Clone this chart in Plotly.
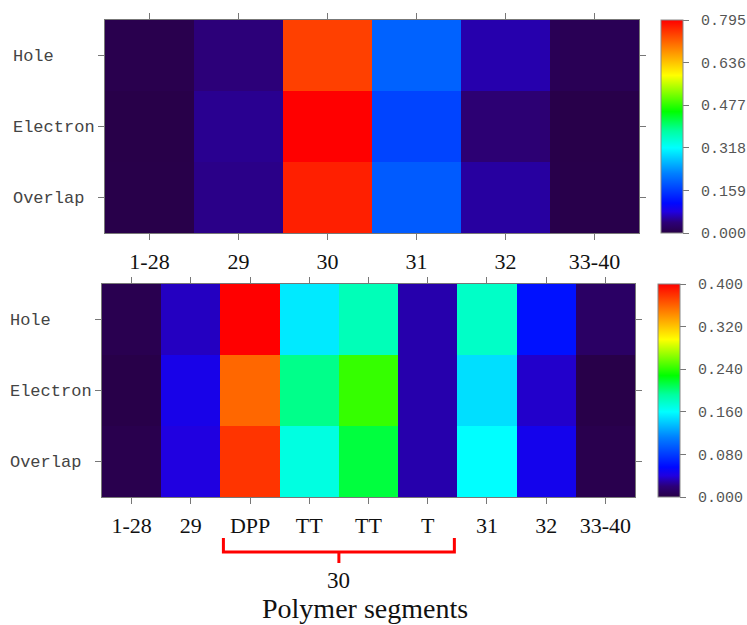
import plotly.graph_objects as go

rows = ["Hole", "Electron", "Overlap"]
row_labels = ["Hole\u00a0\u00a0\u00a0\u00a0", "Electron", "Overlap\u00a0"]

top_cats = ["1-28", "29", "30", "31", "32", "33-40"]
top_hole = [0.006, 0.040, 0.743, 0.195, 0.060, 0.012]
top_electron = [0.002, 0.049, 0.795, 0.167, 0.036, 0.003]
top_overlap = [0.003, 0.046, 0.770, 0.188, 0.055, 0.004]
top_ticks = [0.0, 0.159, 0.318, 0.477, 0.636, 0.795]

bot_cats = ["1-28", "29", "DPP", "TT", "TT ", "T", "31", "32", "33-40"]
bot_hole = [0.004, 0.034, 0.400, 0.152, 0.184, 0.030, 0.179, 0.060, 0.012]
bot_electron = [0.001, 0.044, 0.358, 0.197, 0.242, 0.030, 0.148, 0.036, 0.001]
bot_overlap = [0.003, 0.040, 0.379, 0.170, 0.214, 0.030, 0.160, 0.046, 0.003]
bot_ticks = [0.0, 0.08, 0.16, 0.24, 0.32, 0.40]

cscale = [[0.0, '#280046'], [0.05, '#2c0078'], [0.10, '#2000e0'], [0.14, '#0008ff'],
          [0.28, '#0080ff'], [0.40, '#00ffff'], [0.48, '#00ffa0'], [0.57, '#00ff00'],
          [0.74, '#ffff00'], [0.87, '#ff8000'], [1.0, '#ff0000']]

W, H = 747, 625
cbfont = dict(family="Liberation Mono", size=15, color="#555")

def cb(ticks, fmt, x, ytop):
    return dict(x=x, xanchor="left", xpad=0, y=ytop, yanchor="top", ypad=0,
                lenmode="pixels", len=213, thickness=22, thicknessmode="pixels",
                tickvals=ticks, ticktext=["\u00a0" + fmt % t for t in ticks],
                ticks="outside", ticklen=6, tickcolor="#777", tickfont=cbfont,
                outlinecolor="#888", outlinewidth=1)

fig = go.Figure()
fig.add_trace(go.Heatmap(
    z=[top_hole, top_electron, top_overlap], x=top_cats, y=rows,
    colorscale=cscale, zmin=0, zmax=top_ticks[-1], xaxis="x", yaxis="y",
    colorbar=cb(top_ticks, "%.3f", 661 / W, 1 - 20 / H)))
fig.add_trace(go.Heatmap(
    z=[bot_hole, bot_electron, bot_overlap], x=bot_cats, y=rows,
    colorscale=cscale, zmin=0, zmax=bot_ticks[-1], xaxis="x2", yaxis="y2",
    colorbar=cb(bot_ticks, "%.3f", 658 / W, 1 - 284 / H)))

xfont = dict(family="Liberation Serif", size=22, color="#111")
yfont = dict(family="Liberation Mono", size=17, color="#444")
axcommon = dict(showline=True, linecolor="#777", linewidth=1, mirror="ticks",
                ticks="outside", ticklen=6, tickcolor="#777", showgrid=False, zeroline=False)

fig.update_layout(
    width=W, height=H, margin=dict(l=0, r=0, t=0, b=0),
    paper_bgcolor="white", plot_bgcolor="white",
    xaxis=dict(domain=[105 / W, 639 / W], anchor="y", tickfont=xfont,
               ticklabelstandoff=3, **axcommon),
    yaxis=dict(domain=[1 - 233 / H, 1 - 20 / H], anchor="x", autorange="reversed",
               tickvals=rows, ticktext=row_labels, tickfont=yfont, **axcommon),
    xaxis2=dict(domain=[102 / W, 635 / W], anchor="y2", tickfont=xfont,
                tickvals=bot_cats, ticktext=[c.strip() for c in bot_cats],
                ticklabelstandoff=3, **axcommon),
    yaxis2=dict(domain=[1 - 497 / H, 1 - 284 / H], anchor="x2", autorange="reversed",
                tickvals=rows, ticktext=row_labels, tickfont=yfont, **axcommon),
)

# red bracket under the "30" segment group (DPP .. T)
y_top = 1 - 538 / H
y_mid = 1 - 552 / H
y_bot = 1 - 563 / H
fig.add_shape(type="path", xref="x2", yref="paper",
              path=f"M 1.55,{y_top} L 1.55,{y_mid} L 5.45,{y_mid} L 5.45,{y_top}",
              line=dict(color="#ff0000", width=3))
fig.add_shape(type="line", xref="x2", yref="paper", x0=3.5, x1=3.5, y0=y_mid, y1=y_bot,
              line=dict(color="#ff0000", width=3))
fig.add_annotation(text="30", xref="x2", yref="paper", x=3.5, y=1 - 580 / H,
                   xanchor="center", yanchor="middle",
                   showarrow=False, font=dict(family="Liberation Serif", size=23, color="#111"))
fig.add_annotation(text="Polymer segments", xref="paper", yref="paper", x=365 / W, y=1 - 608 / H,
                   xanchor="center", yanchor="middle",
                   showarrow=False, font=dict(family="Liberation Serif", size=28, color="#111"))

fig.write_html("out.html")
